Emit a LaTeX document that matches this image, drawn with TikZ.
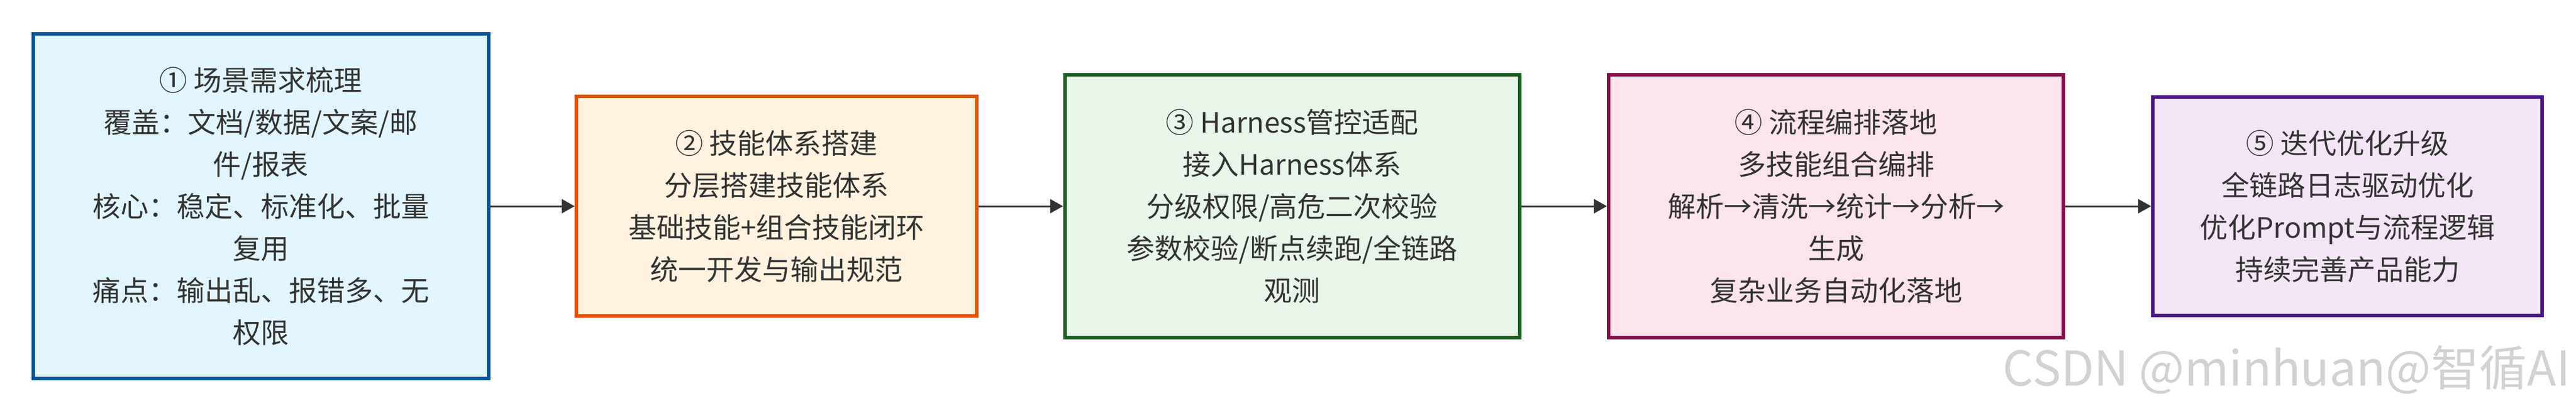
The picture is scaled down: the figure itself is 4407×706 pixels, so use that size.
\documentclass[tikz,border=0pt]{standalone}
\usepackage{fontspec}
\setmainfont{Noto Sans CJK SC}
\usetikzlibrary{arrows.meta}
\definecolor{blueline}{HTML}{01579B}
\definecolor{bluefill}{HTML}{E1F5FE}
\definecolor{orangeline}{HTML}{E65100}
\definecolor{orangefill}{HTML}{FFF3E0}
\definecolor{greenline}{HTML}{1B5E20}
\definecolor{greenfill}{HTML}{E8F5E9}
\definecolor{pinkline}{HTML}{880E4F}
\definecolor{pinkfill}{HTML}{FCE4EC}
\definecolor{purpleline}{HTML}{4A148C}
\definecolor{purplefill}{HTML}{F3E5F5}
\definecolor{textgray}{HTML}{333333}

\begin{document}
\begin{tikzpicture}[x=0.25pt, y=-0.25pt,
    stage/.style={draw, line width=1.5pt, align=center, text=textgray, inner sep=0pt,
        font=\fontsize{12pt}{18pt}\selectfont},
    flow/.style={draw=textgray, line width=0.75pt, -{Triangle[length=5.5pt,width=6pt]}}]
    \useasboundingbox (0,0) rectangle (4407,706);
    \node[stage, draw=blueline, fill=bluefill, minimum width=194.75pt, minimum height=147.5pt] (scene) at (446,353)
        {① 场景需求梳理\\覆盖：文档/数据/文案/邮\\件/报表\\核心：稳定、标准化、批量\\复用\\痛点：输出乱、报错多、无\\权限};
    \node[stage, draw=orangeline, fill=orangefill, minimum width=171.25pt, minimum height=94pt] (skill) at (1328.5,353)
        {② 技能体系搭建\\分层搭建技能体系\\基础技能+组合技能闭环\\统一开发与输出规范};
    \node[stage, draw=greenline, fill=greenfill, minimum width=194.5pt, minimum height=112.5pt] (harness) at (2210.5,353)
        {③ Harness管控适配\\接入Harness体系\\分级权限/高危二次校验\\参数校验/断点续跑/全链路\\观测};
    \node[stage, draw=pinkline, fill=pinkfill, minimum width=194.5pt, minimum height=112.5pt] (flowplan) at (3141,353)
        {④ 流程编排落地\\多技能组合编排\\解析→清洗→统计→分析→\\生成\\复杂业务自动化落地};
    \node[stage, draw=purpleline, fill=purplefill, minimum width=166.5pt, minimum height=93.5pt] (iterate) at (4016,353)
        {⑤ 迭代优化升级\\全链路日志驱动优化\\优化Prompt与流程逻辑\\持续完善产品能力};
    \draw[flow] (scene) -- (skill);
    \draw[flow] (skill) -- (harness);
    \draw[flow] (harness) -- (flowplan);
    \draw[flow] (flowplan) -- (iterate);
    \node[anchor=base east, inner sep=0pt, text=gray!35, font=\fontsize{20.5pt}{20.5pt}\selectfont] (mark) at (4398,660)
        {CSDN @minhuan@智循AI};
\end{tikzpicture}
\end{document}
